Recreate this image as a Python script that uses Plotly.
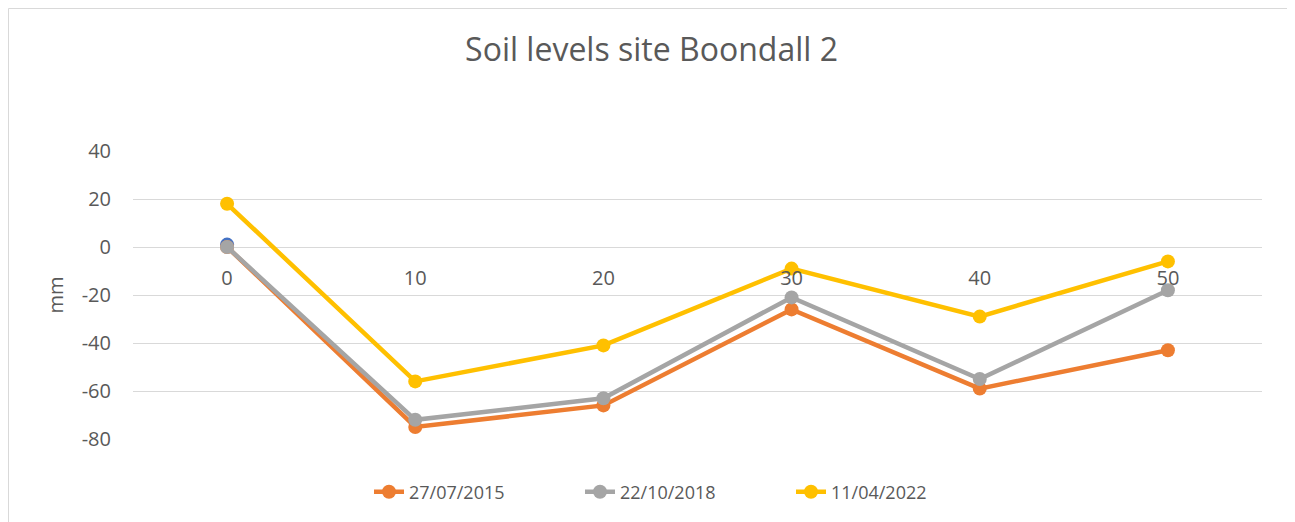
import plotly.graph_objects as go

x_vals = [0, 10, 20, 30, 40, 50]
series_names = ["27/07/2015", "22/10/2018", "11/04/2022"]
s2015 = [0, -75, -66, -26, -59, -43]
s2018 = [0, -72, -63, -21, -55, -18]
s2022 = [18, -56, -41, -9, -29, -6]
hidden_x = [0]
hidden_y = [1]
colors = ["#ED7D31", "#A5A5A5", "#FFC000"]
y_ticks = [40, 20, 0, -20, -40, -60, -80]

fig = go.Figure()
fig.add_trace(go.Scatter(x=hidden_x, y=hidden_y, mode="markers",
                         marker=dict(color="#4472C4", size=14), showlegend=False))
for name, vals, c in zip(series_names, [s2015, s2018, s2022], colors):
    fig.add_trace(go.Scatter(x=x_vals, y=vals, name=name, mode="lines+markers",
                             line=dict(color=c, width=4.5),
                             marker=dict(color=c, size=14)))

font_family = "Open Sans, Liberation Sans, sans-serif"
# page is offset by 8px body margin
W, H = 1287, 514
L, R, T, B = 125, 33, 143, 83
pw = W - L - R
ph = H - T - B
txt = "#595959"
fig.update_layout(
    width=W, height=H,
    margin=dict(l=L, r=R, t=T, b=B, autoexpand=False),
    paper_bgcolor="white", plot_bgcolor="white",
    font=dict(family=font_family, color=txt, size=20),
    title=dict(text="Soil levels site Boondall 2", x=0.5, xanchor="center",
               y=1 - 42 / H, yanchor="middle",
               font=dict(size=32, color=txt, family=font_family)),
    legend=dict(orientation="h", x=0.5 - 12 / pw, xanchor="center",
                y=(ph - (484 - T)) / ph, yanchor="middle",
                font=dict(size=18, color=txt), entrywidth=166, entrywidthmode="pixels"),
    xaxis=dict(range=[-5, 55], tickvals=x_vals, ticktext=[str(v) for v in x_vals],
               showgrid=False, zeroline=False, showline=False,
               anchor="free", position=80 / 120,
               ticks="outside", ticklen=13, tickcolor="rgba(0,0,0,0)",
               tickfont=dict(size=20, color=txt)),
    yaxis=dict(range=[-80, 40], tickvals=y_ticks, ticktext=[str(v) for v in y_ticks],
               showgrid=True, gridcolor="#D9D9D9",
               gridwidth=1, zeroline=False, showline=False,
               ticks="outside", ticklen=17, tickcolor="rgba(0,0,0,0)",
               title=dict(text="mm", font=dict(size=20, color=txt), standoff=12),
               tickfont=dict(size=20, color=txt)),
    shapes=[dict(type="rect", xref="paper", yref="paper",
                 x0=(0.5 - L) / pw, x1=(1282 - L) / pw,
                 y0=(ph + T - 540) / ph, y1=(ph + T - 0.5) / ph,
                 line=dict(color="#D9D9D9", width=1), fillcolor="rgba(0,0,0,0)",
                 layer="below")],
)
fig.write_html("out.html")
